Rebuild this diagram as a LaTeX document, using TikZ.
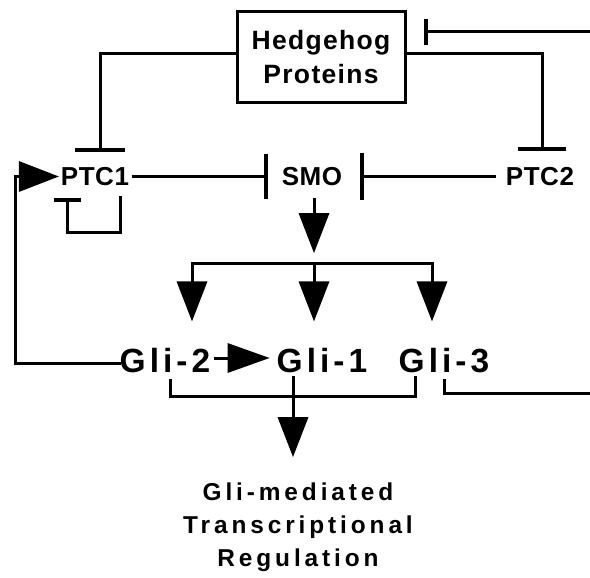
\documentclass[tikz,border=0pt]{standalone}
\usepackage{fontspec}
\setmainfont{Liberation Sans}
\newfontfamily\topfont[LetterSpace=2]{Liberation Sans}
\newfontfamily\hhfont[LetterSpace=5]{Liberation Sans}
\newfontfamily\glifont[LetterSpace=12]{Liberation Sans}
\newfontfamily\outfont[LetterSpace=16]{Liberation Sans}
\usetikzlibrary{arrows.meta}
\begin{document}
\begin{tikzpicture}[x=1pt,y=-1pt,
  ln/.style={line width=3pt, line cap=rect},
  inh/.style={ln, -{Bar[width=#1,line width=4pt]}},
  act/.style={ln, -{Triangle[length=40pt,width=31pt,line width=0pt]}},
  actg/.style={ln, -{Triangle[length=42pt,width=30pt,line width=0pt]}},
  txt/.style={inner sep=0pt, font=\topfont\bfseries\fontsize{26pt}{30pt}\selectfont, text height=18.7pt, text depth=0pt},
  glitxt/.style={inner sep=0pt, font=\glifont\bfseries\fontsize{33.5pt}{36pt}\selectfont, text height=24pt, text depth=0pt},
  outtxt/.style={inner sep=0pt, align=center, font=\outfont\bfseries\fontsize{24.4pt}{33pt}\selectfont},
  hhbox/.style={draw, line width=3pt, minimum width=168pt, minimum height=91pt, inner sep=0pt, align=center, font=\hhfont\bfseries\fontsize{26.5pt}{34pt}\selectfont},
]
\fill[white] (0,0) rectangle (590,578);
\useasboundingbox (0,0) rectangle (590,578);

% nodes
\node[hhbox] (hh) at (321,57.5) {Hedgehog\\Proteins};
\node[txt] (ptc1) at (95,176.5) {PTC1};
\node[txt] (smo) at (312,176.5) {SMO};
\node[txt] (ptc2) at (540,176.5) {PTC2};
\node[glitxt] (gli2) at (165,360.5) {Gli-2};
\node[glitxt] (gli1) at (322,360.5) {Gli-1};
\node[glitxt] (gli3) at (444,360.5) {Gli-3};
\node[outtxt, anchor=north] (out) at (298,483) {Gli-mediated\\Transcriptional\\Regulation};

% coordinates
\coordinate (edgeTop) at (590,32);
\coordinate (edgeBot) at (590,393);
\coordinate (loopL) at (15,363);
\coordinate (split) at (314,263);
\coordinate (bL) at (192,263);
\coordinate (bR) at (432,263);
\coordinate (brL) at (170,380);
\coordinate (brM) at (293,396);
\coordinate (brR) at (415,377);
\coordinate (outTip) at (293,457);

% inhibitions
\draw[inh=26pt, shorten >=17pt] (edgeTop) -- (hh.east |- edgeTop);
\draw[inh=50pt] ([yshift=3.5pt]hh.west) -| ([xshift=5pt,yshift=15pt]ptc1.north);
\draw[inh=48pt] ([yshift=3.5pt]hh.east) -| ([xshift=2pt,yshift=16pt]ptc2.north);
\draw[inh=45pt, shorten <=4pt, shorten >=14pt] (ptc1.east) -- (smo.west);
\draw[inh=47pt, shorten <=11pt, shorten >=18pt] (ptc2.west) -- (smo.east);
\draw[inh=27pt] ([xshift=25pt,yshift=-11pt]ptc1.south) -- ++(0,35) -| ([xshift=-28pt,yshift=-12pt]ptc1.south);

% activations
\draw[act] ([yshift=-2.5pt]gli2.west) -- (loopL) |- ([xshift=-2pt]ptc1.west);
\draw[act, shorten <=13pt] (smo.south -| split) -- ([yshift=10pt]split);
\draw[ln] (bL) -- (bR);
\draw[act, shorten >=27pt] (bL) -- (bL |- gli2.north);
\draw[act, shorten >=27pt] (split) -- (split |- gli1.north);
\draw[act, shorten >=27pt] (bR) -- (bR |- gli3.north);
\draw[actg, shorten <=5pt, shorten >=7pt] ([yshift=2.5pt]gli2.east) -- ([yshift=2.5pt]gli1.west);
\draw[ln] (brL) |- (brM) -| (brR);
\draw[act] (brM |- brR) -- (outTip);
\draw[ln] ([yshift=-8pt]gli3.south) |- (edgeBot);
\end{tikzpicture}
\end{document}
